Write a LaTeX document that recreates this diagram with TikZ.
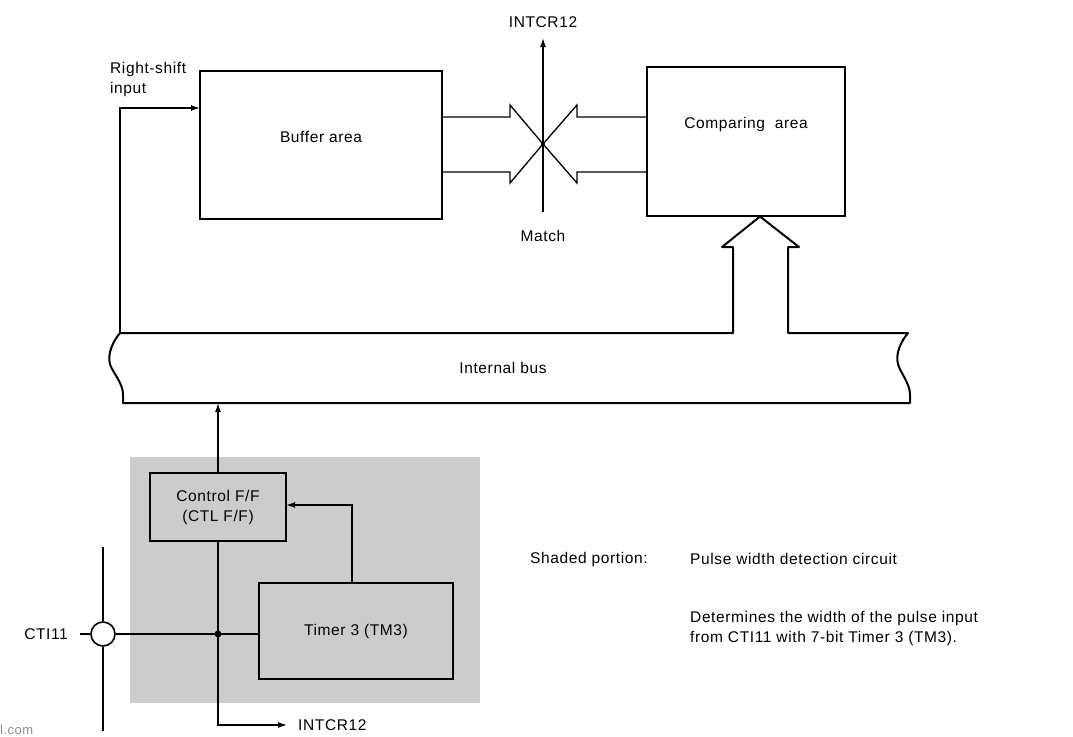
\documentclass[tikz,border=0pt]{standalone}
\usepackage{fontspec}
\setmainfont{Liberation Sans}[LetterSpace=4]
\usetikzlibrary{arrows.meta,calc}
\begin{document}
\begin{tikzpicture}[x=1pt,y=-1pt,
  every node/.style={font=\fontsize{15.5}{20}\selectfont, inner sep=0pt},
  blk/.style={draw, line width=2.6pt, minimum width=#1},
  conn/.style={line width=1.3pt},
  tip/.style={-{Latex[length=9pt,width=6pt]}},
  busline/.style={line width=2pt, line join=round},
  shadearea/.style={fill=black!20, draw=none},
  lbl/.style={align=left}
]
\useasboundingbox (0,0) rectangle (1073,736);

% shaded region
\node[shadearea, minimum width=350pt, minimum height=246pt] (shaded) at (305,580) {};

% top boxes
\node[blk=242pt, minimum height=148pt] (buf) at (321,145) {};
\node (buftxt) at (321,137) {Buffer area};
\node[blk=198pt, minimum height=149pt] (cmp) at (746,141.5) {};
\node (cmptxt) at (746,124) {Comparing\ \ area};

% right-shift input
\node[lbl, anchor=north west] (rstxt) at (110,62) {Right-shift\\input};
\coordinate (rsbus) at (120,333);
\coordinate (rsin) at (200,108);
\draw[conn, tip] (rsbus) |- (rsin);

% internal bus with opening for the big arrow
\draw[busline] (788,333) -- (908,333)
  .. controls (898,345) and (895,358) .. (899,367)
  .. controls (904,378) and (910,385) .. (910,395) -- (910,403)
  -- (123,403) -- (123,395)
  .. controls (123,385) and (117,378) .. (111,367)
  .. controls (107,358) and (110,345) .. (120,333)
  -- (733,333) -- (733,247) -- (722,247) -- (760,216.5) -- (799,247) -- (788,247) -- cycle;
\node (bustxt) at (503,368) {Internal bus};

% match arrows
\draw[conn, line join=miter] (442,117) -- (510,117) -- (510,105) -- (543,144) -- (510,183) -- (510,172) -- (442,172);
\draw[conn, line join=miter] (647,117) -- (577,117) -- (577,105) -- (543,144) -- (577,183) -- (577,172) -- (647,172);
\fill (543,144) circle (2pt);
\coordinate (mbot) at (543,212);
\coordinate (mtop) at (543,38);
\draw[conn, tip] (mbot) -- (mtop);
\node (intcrtop) at (543,22) {INTCR12};
\node (match) at (543,236) {Match};

% control and timer
\node[blk=136pt, minimum height=68pt, align=center, fill=black!20] (ctl) at (218,507) {Control F/F\\(CTL F/F)};
\node[blk=194pt, minimum height=96pt, fill=black!20] (tmr) at (356,631) {Timer 3 (TM3)};

\coordinate (busbot) at (218,403);
\draw[conn, tip] (ctl.north) -- (busbot);

\coordinate (fb) at (352,583);
\coordinate (fbend) at (286,505);
\draw[conn, tip] (fb) |- (fbend);

\coordinate (j) at (218,634);
\coordinate (jb) at (218,725);
\coordinate (intend) at (287,725);
\draw[conn] (ctl.south) -- (j);
\draw[conn, tip] (j) -- (jb) -- (intend);
\fill (j) circle (3.5pt);
\node[anchor=west] (intcrbot) at (298,725) {INTCR12};

% CTI11 pin
\node[draw, circle, line width=1.6pt, minimum size=24pt, fill=white] (cti) at (103,634) {};
\coordinate (ctitop) at (103,547);
\coordinate (ctibot) at (103,731);
\coordinate (ctilead) at (80,634);
\draw[line width=2.8pt] (ctitop) -- (cti.north);
\draw[line width=2.8pt] (cti.south) -- (ctibot);
\draw[conn] (ctilead) -- (cti.west);
\draw[conn] (cti.east) -- (tmr.west |- j);
\node[anchor=east] (ctitxt) at (68,634) {CTI11};

% legend
\node[anchor=west] (shlbl) at (530,559) {Shaded portion:};
\node[anchor=west] (shdesc) at (690,559) {Pulse width detection circuit};
\node[lbl, anchor=north west] (det) at (690,611) {Determines the width of the pulse input\\from CTI11 with 7-bit Timer 3 (TM3).};

\node[anchor=west, text=black!45, font=\fontsize{13}{15}\selectfont] (wm) at (0,730) {l.com};
\end{tikzpicture}
\end{document}
